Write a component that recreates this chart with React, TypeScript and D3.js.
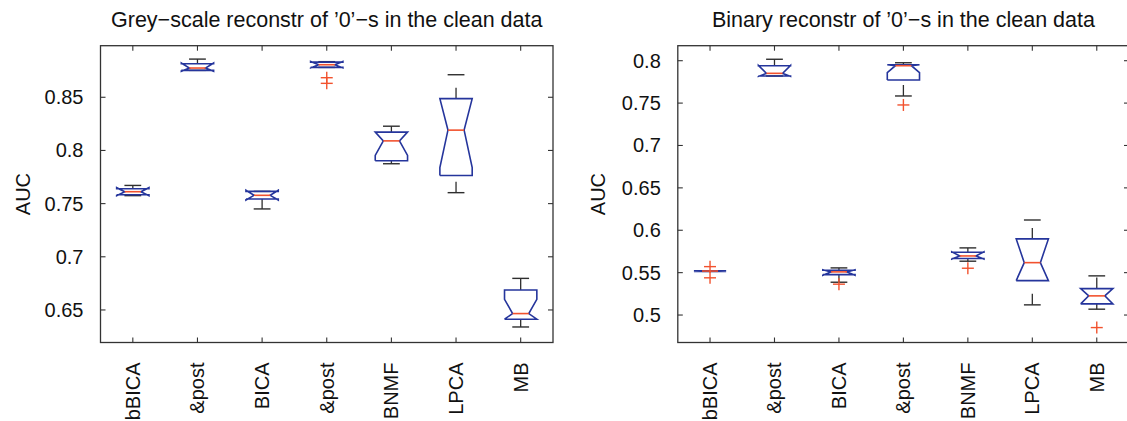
import React from "react";
import * as d3 from "d3";

// Method names along the x axis (shared by both panels)
const categories = ["bBICA", "&post", "BICA", "&post", "BNMF", "LPCA", "MB"];

// ---- Grey-scale reconstruction AUC statistics ----
const greyTicks = [0.65, 0.7, 0.75, 0.8, 0.85];
const greyDomain = [0.6194, 0.8985];
const greyWhiskerHi = [0.7671, 0.8859, 0.7615, 0.8835, 0.8228, 0.8712, 0.6797];
const greyQ3 = [0.764, 0.8815, 0.7615, 0.8831, 0.8172, 0.8487, 0.6687];
const greyNotchHi = [0.765, 0.8822, 0.7626, 0.8836, 0.8172, 0.8487, 0.66];
const greyMedian = [0.7612, 0.8775, 0.7578, 0.8806, 0.809, 0.8191, 0.6466];
const greyNotchLo = [0.7574, 0.8745, 0.7534, 0.8776, 0.7953, 0.784, 0.6413];
const greyQ1 = [0.7584, 0.8753, 0.7544, 0.8781, 0.7903, 0.7765, 0.6413];
const greyWhiskerLo = [0.7575, 0.8753, 0.745, 0.8781, 0.7875, 0.7603, 0.634];
const greyOutliers = [[], [], [], [0.8684, 0.8631], [], [], []];

// ---- Binary reconstruction AUC statistics ----
const binaryTicks = [0.5, 0.55, 0.6, 0.65, 0.7, 0.75, 0.8];
const binaryDomain = [0.4676, 0.8177];
const binaryWhiskerHi = [0.5523, 0.8017, 0.5556, 0.7976, 0.5792, 0.6121, 0.5462];
const binaryQ3 = [0.5523, 0.7941, 0.5529, 0.7953, 0.5741, 0.5898, 0.5312];
const binaryNotchHi = [0.5523, 0.7945, 0.5535, 0.7953, 0.5746, 0.5898, 0.5312];
const binaryMedian = [0.5519, 0.7851, 0.5509, 0.7941, 0.5697, 0.5618, 0.5226];
const binaryNotchLo = [0.5515, 0.7815, 0.547, 0.7859, 0.566, 0.5406, 0.5132];
const binaryQ1 = [0.5515, 0.782, 0.5477, 0.7772, 0.5666, 0.5406, 0.5132];
const binaryWhiskerLo = [0.5515, 0.782, 0.5387, 0.7584, 0.5635, 0.512, 0.5069];
const binaryOutliers = [[0.5571, 0.5439], [], [0.5364], [0.7478], [0.5552], [], [0.4852]];

const FONT = "'Liberation Sans', Arial, Helvetica, sans-serif";
const AXIS = "#333333";
const BLUE = "#25359c";
const RED = "#f2522e";
const WHISKER = "#2e2e2e";

const TOP = 45.7;
const BOTTOM = 342.5;

type Stats = {
  hi: number[];
  q3: number[];
  nhi: number[];
  med: number[];
  nlo: number[];
  q1: number[];
  lo: number[];
  out: number[][];
};

type PanelProps = {
  title: string;
  left: number;
  right: number;
  domain: number[];
  ticks: number[];
  stats: Stats;
  ylabelOffset: number;
};

function Panel({ title, left, right, domain, ticks, stats, ylabelOffset }: PanelProps) {
  const x = d3
    .scaleLinear()
    .domain([0.5, categories.length + 0.5])
    .range([left, right]);
  const y = d3.scaleLinear().domain(domain).range([BOTTOM, TOP]);
  const step = x(2) - x(1);
  const hw = step * 0.25;
  const nw = hw / 2;
  const capHalf = step * 0.13;
  const tickLen = 5;
  const fmt = (v: number) => String(+v.toFixed(2));
  const line = d3.line<[number, number]>();

  return (
    <g>
      {/* title */}
      <text
        x={(left + right) / 2}
        y={27}
        textAnchor="middle"
        fontSize={21.5}
        fontFamily={FONT}
        fill="#111"
      >
        {title}
      </text>

      {/* y label */}
      <text
        transform={`translate(${left - ylabelOffset},${(TOP + BOTTOM) / 2}) rotate(-90)`}
        textAnchor="middle"
        dy="0.35em"
        fontSize={20}
        fontFamily={FONT}
        fill="#111"
      >
        AUC
      </text>

      {/* frame */}
      <rect
        x={left}
        y={TOP}
        width={right - left}
        height={BOTTOM - TOP}
        fill="none"
        stroke={AXIS}
        strokeWidth={1.3}
      />

      {/* y ticks and labels */}
      {ticks.map((t) => (
        <g key={"y" + t}>
          <line x1={left} x2={left + tickLen} y1={y(t)} y2={y(t)} stroke={AXIS} strokeWidth={1.1} />
          <line x1={right} x2={right - tickLen} y1={y(t)} y2={y(t)} stroke={AXIS} strokeWidth={1.1} />
          <text
            x={left - 17}
            y={y(t)}
            dy="0.35em"
            textAnchor="end"
            fontSize={20}
            fontFamily={FONT}
            fill="#111"
          >
            {fmt(t)}
          </text>
        </g>
      ))}

      {/* x ticks and rotated category labels */}
      {categories.map((c, i) => {
        const cx = x(i + 1);
        return (
          <g key={"x" + i}>
            <line x1={cx} x2={cx} y1={BOTTOM} y2={BOTTOM - tickLen} stroke={AXIS} strokeWidth={1.1} />
            <line x1={cx} x2={cx} y1={TOP} y2={TOP + tickLen} stroke={AXIS} strokeWidth={1.1} />
            <text
              transform={`translate(${cx},${362.5}) rotate(-90)`}
              dy="0.35em"
              textAnchor="end"
              fontSize={20}
              fontFamily={FONT}
              fill="#111"
            >
              {c}
            </text>
          </g>
        );
      })}

      {/* notched boxes */}
      {categories.map((c, i) => {
        const cx = x(i + 1);
        const lb = cx - hw;
        const ub = cx + hw;
        const poly: [number, number][] = [
          [lb, y(stats.q1[i])],
          [lb, y(stats.nlo[i])],
          [cx - nw, y(stats.med[i])],
          [lb, y(stats.nhi[i])],
          [lb, y(stats.q3[i])],
          [ub, y(stats.q3[i])],
          [ub, y(stats.nhi[i])],
          [cx + nw, y(stats.med[i])],
          [ub, y(stats.nlo[i])],
          [ub, y(stats.q1[i])],
          [lb, y(stats.q1[i])],
        ];
        return (
          <g key={"b" + i}>
            {/* whiskers, drawn upward so the dash pattern starts at the lower end */}
            <line
              x1={cx}
              x2={cx}
              y1={y(stats.q3[i])}
              y2={y(stats.hi[i])}
              stroke={WHISKER}
              strokeWidth={1.3}
              strokeDasharray="11,13"
            />
            <line
              x1={cx}
              x2={cx}
              y1={y(stats.lo[i])}
              y2={y(stats.q1[i])}
              stroke={WHISKER}
              strokeWidth={1.3}
              strokeDasharray="11,13"
            />
            <line
              x1={cx - capHalf}
              x2={cx + capHalf}
              y1={y(stats.hi[i])}
              y2={y(stats.hi[i])}
              stroke={WHISKER}
              strokeWidth={1.4}
            />
            <line
              x1={cx - capHalf}
              x2={cx + capHalf}
              y1={y(stats.lo[i])}
              y2={y(stats.lo[i])}
              stroke={WHISKER}
              strokeWidth={1.4}
            />
            <path d={line(poly) || ""} fill="none" stroke={BLUE} strokeWidth={1.6} strokeLinejoin="miter" />
            <line
              x1={cx - nw}
              x2={cx + nw}
              y1={y(stats.med[i])}
              y2={y(stats.med[i])}
              stroke={RED}
              strokeWidth={1.6}
            />
            {stats.out[i].map((o, j) => (
              <g key={"o" + j}>
                <line x1={cx - 6} x2={cx + 6} y1={y(o)} y2={y(o)} stroke={RED} strokeWidth={1.4} />
                <line x1={cx} x2={cx} y1={y(o) - 6} y2={y(o) + 6} stroke={RED} strokeWidth={1.4} />
              </g>
            ))}
          </g>
        );
      })}
    </g>
  );
}

export default function App() {
  const grey: Stats = {
    hi: greyWhiskerHi,
    q3: greyQ3,
    nhi: greyNotchHi,
    med: greyMedian,
    nlo: greyNotchLo,
    q1: greyQ1,
    lo: greyWhiskerLo,
    out: greyOutliers,
  };
  const binary: Stats = {
    hi: binaryWhiskerHi,
    q3: binaryQ3,
    nhi: binaryNotchHi,
    med: binaryMedian,
    nlo: binaryNotchLo,
    q1: binaryQ1,
    lo: binaryWhiskerLo,
    out: binaryOutliers,
  };
  return (
    <svg
      width={1127}
      height={421}
      style={{ position: "absolute", left: 0, top: 0, background: "#fff" }}
    >
      <rect width={1127} height={421} fill="#fff" />
      <Panel
        title="Grey−scale reconstr of ’0’−s in the clean data"
        left={100.5}
        right={553}
        domain={greyDomain}
        ticks={greyTicks}
        stats={grey}
        ylabelOffset={78}
      />
      <Panel
        title="Binary reconstr of ’0’−s in the clean data"
        left={677.8}
        right={1129}
        domain={binaryDomain}
        ticks={binaryTicks}
        stats={binary}
        ylabelOffset={80}
      />
    </svg>
  );
}
